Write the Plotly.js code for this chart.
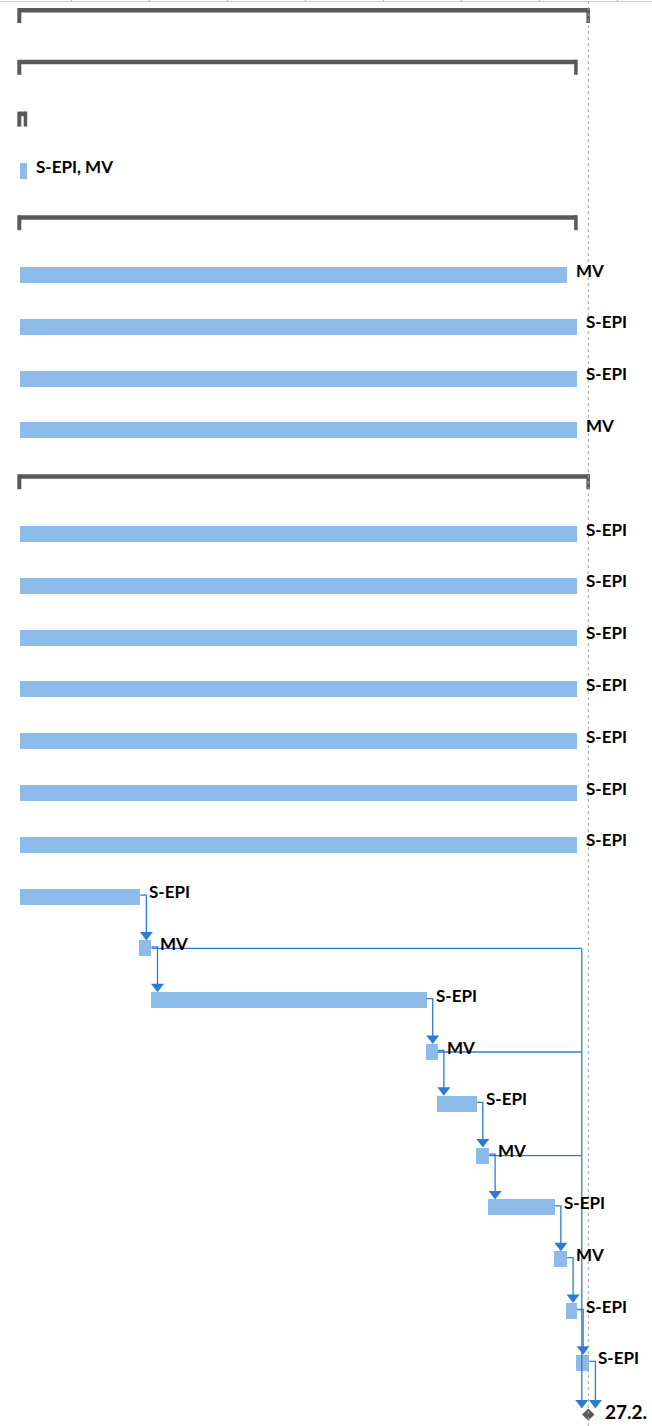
<!DOCTYPE html>
<html>
<head>
<meta charset="utf-8">
<script src="https://cdn.plot.ly/plotly-3.0.1.min.js"></script>
<style>
  html, body { margin: 0; padding: 0; background: #ffffff; }
  #chart { width: 652px; height: 1426px; }
</style>
</head>
<body>
<div id="chart"></div>
<script>
// ---------- data (days from project start, rows counted from top) ----------
const taskRows   = [3, 5, 6, 7, 8, 10, 11, 12, 13, 14, 15, 16, 17, 18, 19, 20, 21, 22, 23, 24, 25, 26];
const taskStart  = [0, 0, 0, 0, 0, 0, 0, 0, 0, 0, 0, 0, 0, 10.7, 11.8, 36.4, 37.4, 40.9, 42.0, 47.9, 49.0, 49.9];
const taskEnd    = [0.6, 49.1, 50, 50, 50, 50, 50, 50, 50, 50, 50, 50, 10.8, 11.8, 36.5, 37.5, 41.0, 42.1, 48.0, 49.1, 50.0, 51.1];
const taskLabels = ['S-EPI, MV', 'MV', 'S-EPI', 'S-EPI', 'MV',
                    'S-EPI', 'S-EPI', 'S-EPI', 'S-EPI', 'S-EPI', 'S-EPI', 'S-EPI',
                    'S-EPI', 'MV', 'S-EPI', 'MV', 'S-EPI', 'MV', 'S-EPI', 'MV', 'S-EPI', 'S-EPI'];

const summaryRows  = [0, 1, 2, 4, 9];
const summaryStart = [0, 0, 0, 0, 0];
const summaryEnd   = [51.1, 50.0, 0.6, 50.0, 51.1];

const milestoneRow   = 27;
const milestoneDay   = 51.0;
const milestoneLabel = '27.2.';
const statusDay      = 51.0;

// finish-to-start links drawn straight down to the successor
const linkFrom = [17, 18, 19, 20, 21, 22, 23, 24, 25, 26];
const linkTo   = [18, 19, 20, 21, 22, 23, 24, 25, 26, 27];
// links that run right to a common trunk and down to the milestone
const trunkFrom = [18, 20, 22];

// ---------- scale / style constants ----------
const W = 652, H = 1426;
const PX_DAY = 11.143;     // pixels per day
const PX_ROW = 51.8;       // pixels per row
const X0PX = 20;           // page x of day 0
const Y0PX = 16;           // page y of row 0 centre
const TOP = 2;             // top margin (timescale edge)

const BAR_COLOR = '#8DBBEA';
const SUM_COLOR = '#595959';
const LINK_COLOR = '#2E7BD4';
const FONT = 'Lato, "Open Sans", sans-serif';

function endOfRow(r) {
  return taskEnd[taskRows.indexOf(r)];
}

const traces = [];
const shapes = [];
const annotations = [];

// --- task bars ---
traces.push({
  type: 'bar',
  orientation: 'h',
  y: taskRows,
  base: taskStart,
  x: taskEnd.map((e, i) => e - taskStart[i]),
  width: 16 / PX_ROW,
  marker: { color: BAR_COLOR, line: { width: 0 } },
  hoverinfo: 'skip',
  showlegend: false
});

// --- summary brackets ---
summaryRows.forEach((r, i) => {
  const s = summaryStart[i], e = summaryEnd[i];
  shapes.push({
    type: 'rect', layer: 'above', xref: 'x', yref: 'y',
    x0: s, x1: e, ysizemode: 'pixel', yanchor: r, y0: 8, y1: 3.5,
    fillcolor: SUM_COLOR, line: { width: 0 }
  });
  shapes.push({
    type: 'rect', layer: 'above', xref: 'x', yref: 'y',
    xsizemode: 'pixel', xanchor: s, x0: -2.7, x1: 1.3,
    ysizemode: 'pixel', yanchor: r, y0: 8, y1: -7,
    fillcolor: SUM_COLOR, line: { width: 0 }
  });
  shapes.push({
    type: 'rect', layer: 'above', xref: 'x', yref: 'y',
    xsizemode: 'pixel', xanchor: e, x0: -3, x1: 0.5,
    ysizemode: 'pixel', yanchor: r, y0: 8, y1: -7,
    fillcolor: SUM_COLOR, line: { width: 0 }
  });
});

// --- links ---
const lx = [], ly = [];
const hookOff = 6 / PX_DAY;
linkFrom.forEach((f, i) => {
  const t = linkTo[i];
  const e = endOfRow(f);
  const yHook = f - 1.5 / PX_ROW;
  const tipOff = (t === milestoneRow) ? 6 : 8;
  lx.push(e, e + hookOff, e + hookOff, null);
  ly.push(yHook, yHook, t - (tipOff + 4) / PX_ROW, null);
  shapes.push({
    type: 'path', layer: 'above', xref: 'x', yref: 'y',
    xsizemode: 'pixel', ysizemode: 'pixel', xanchor: e, yanchor: t,
    path: `M -0.5 ${tipOff + 8.5} L 12.5 ${tipOff + 8.5} L 6 ${tipOff} Z`,
    fillcolor: LINK_COLOR, line: { width: 0 }
  });
});
// trunk to milestone
const trunkX = milestoneDay - 6.5 / PX_DAY;
trunkFrom.forEach(f => {
  lx.push(endOfRow(f), trunkX, null);
  ly.push(f, f, null);
});
lx.push(trunkX, trunkX, null);
ly.push(Math.min(...trunkFrom), milestoneRow - 10 / PX_ROW, null);
shapes.push({
  type: 'path', layer: 'above', xref: 'x', yref: 'y',
  xsizemode: 'pixel', ysizemode: 'pixel', xanchor: milestoneDay, yanchor: milestoneRow,
  path: 'M -13 14.5 L 0 14.5 L -6.5 6 Z',
  fillcolor: LINK_COLOR, line: { width: 0 }
});

traces.push({
  type: 'scatter', mode: 'lines', x: lx, y: ly,
  line: { color: LINK_COLOR, width: 1.3 },
  hoverinfo: 'skip', showlegend: false
});

// --- milestone ---
traces.push({
  type: 'scatter', mode: 'markers',
  x: [milestoneDay], y: [milestoneRow],
  marker: { symbol: 'diamond', size: 9.5, color: SUM_COLOR, line: { width: 0 } },
  hoverinfo: 'skip', showlegend: false
});

// --- status (date) line ---
shapes.push({
  type: 'line', layer: 'above', xref: 'x', yref: 'paper',
  x0: statusDay, x1: statusDay, y0: 0, y1: 1.01,
  line: { color: '#A6A6A6', width: 1, dash: 'dot' }
});

// --- labels ---
taskRows.forEach((r, i) => {
  annotations.push({
    x: taskEnd[i], y: r, xref: 'x', yref: 'y',
    text: taskLabels[i], showarrow: false,
    xanchor: 'left', yanchor: 'middle', xshift: 7, yshift: 5,
    font: { family: FONT, size: 17, color: '#000000', weight: 'bold' }
  });
});
annotations.push({
  x: milestoneDay, y: milestoneRow, xref: 'x', yref: 'y',
  text: milestoneLabel, showarrow: false,
  xanchor: 'left', yanchor: 'middle', xshift: 15, yshift: 3,
  font: { family: FONT, size: 19, color: '#000000', weight: 'bold' }
});

const layout = {
  width: W, height: H,
  margin: { l: 0, r: 0, t: TOP, b: 0, pad: 0 },
  paper_bgcolor: '#ffffff', plot_bgcolor: '#ffffff',
  showlegend: false,
  bargap: 0,
  xaxis: {
    range: [-X0PX / PX_DAY, (W - X0PX) / PX_DAY],
    side: 'top',
    showgrid: false, zeroline: false,
    showline: true, linecolor: '#D0D0D0', linewidth: 1,
    ticks: 'outside', ticklen: 3, tickcolor: '#A8A8A8', tickwidth: 1,
    tick0: (71 - X0PX) / PX_DAY, dtick: 7,
    showticklabels: false, fixedrange: true
  },
  yaxis: {
    range: [(H - Y0PX) / PX_ROW, (TOP - Y0PX) / PX_ROW],
    showgrid: false, zeroline: false, showline: false,
    showticklabels: false, ticks: '', fixedrange: true
  },
  shapes: shapes,
  annotations: annotations
};

Plotly.newPlot('chart', traces, layout, { displayModeBar: false, staticPlot: true });
</script>
</body>
</html>
